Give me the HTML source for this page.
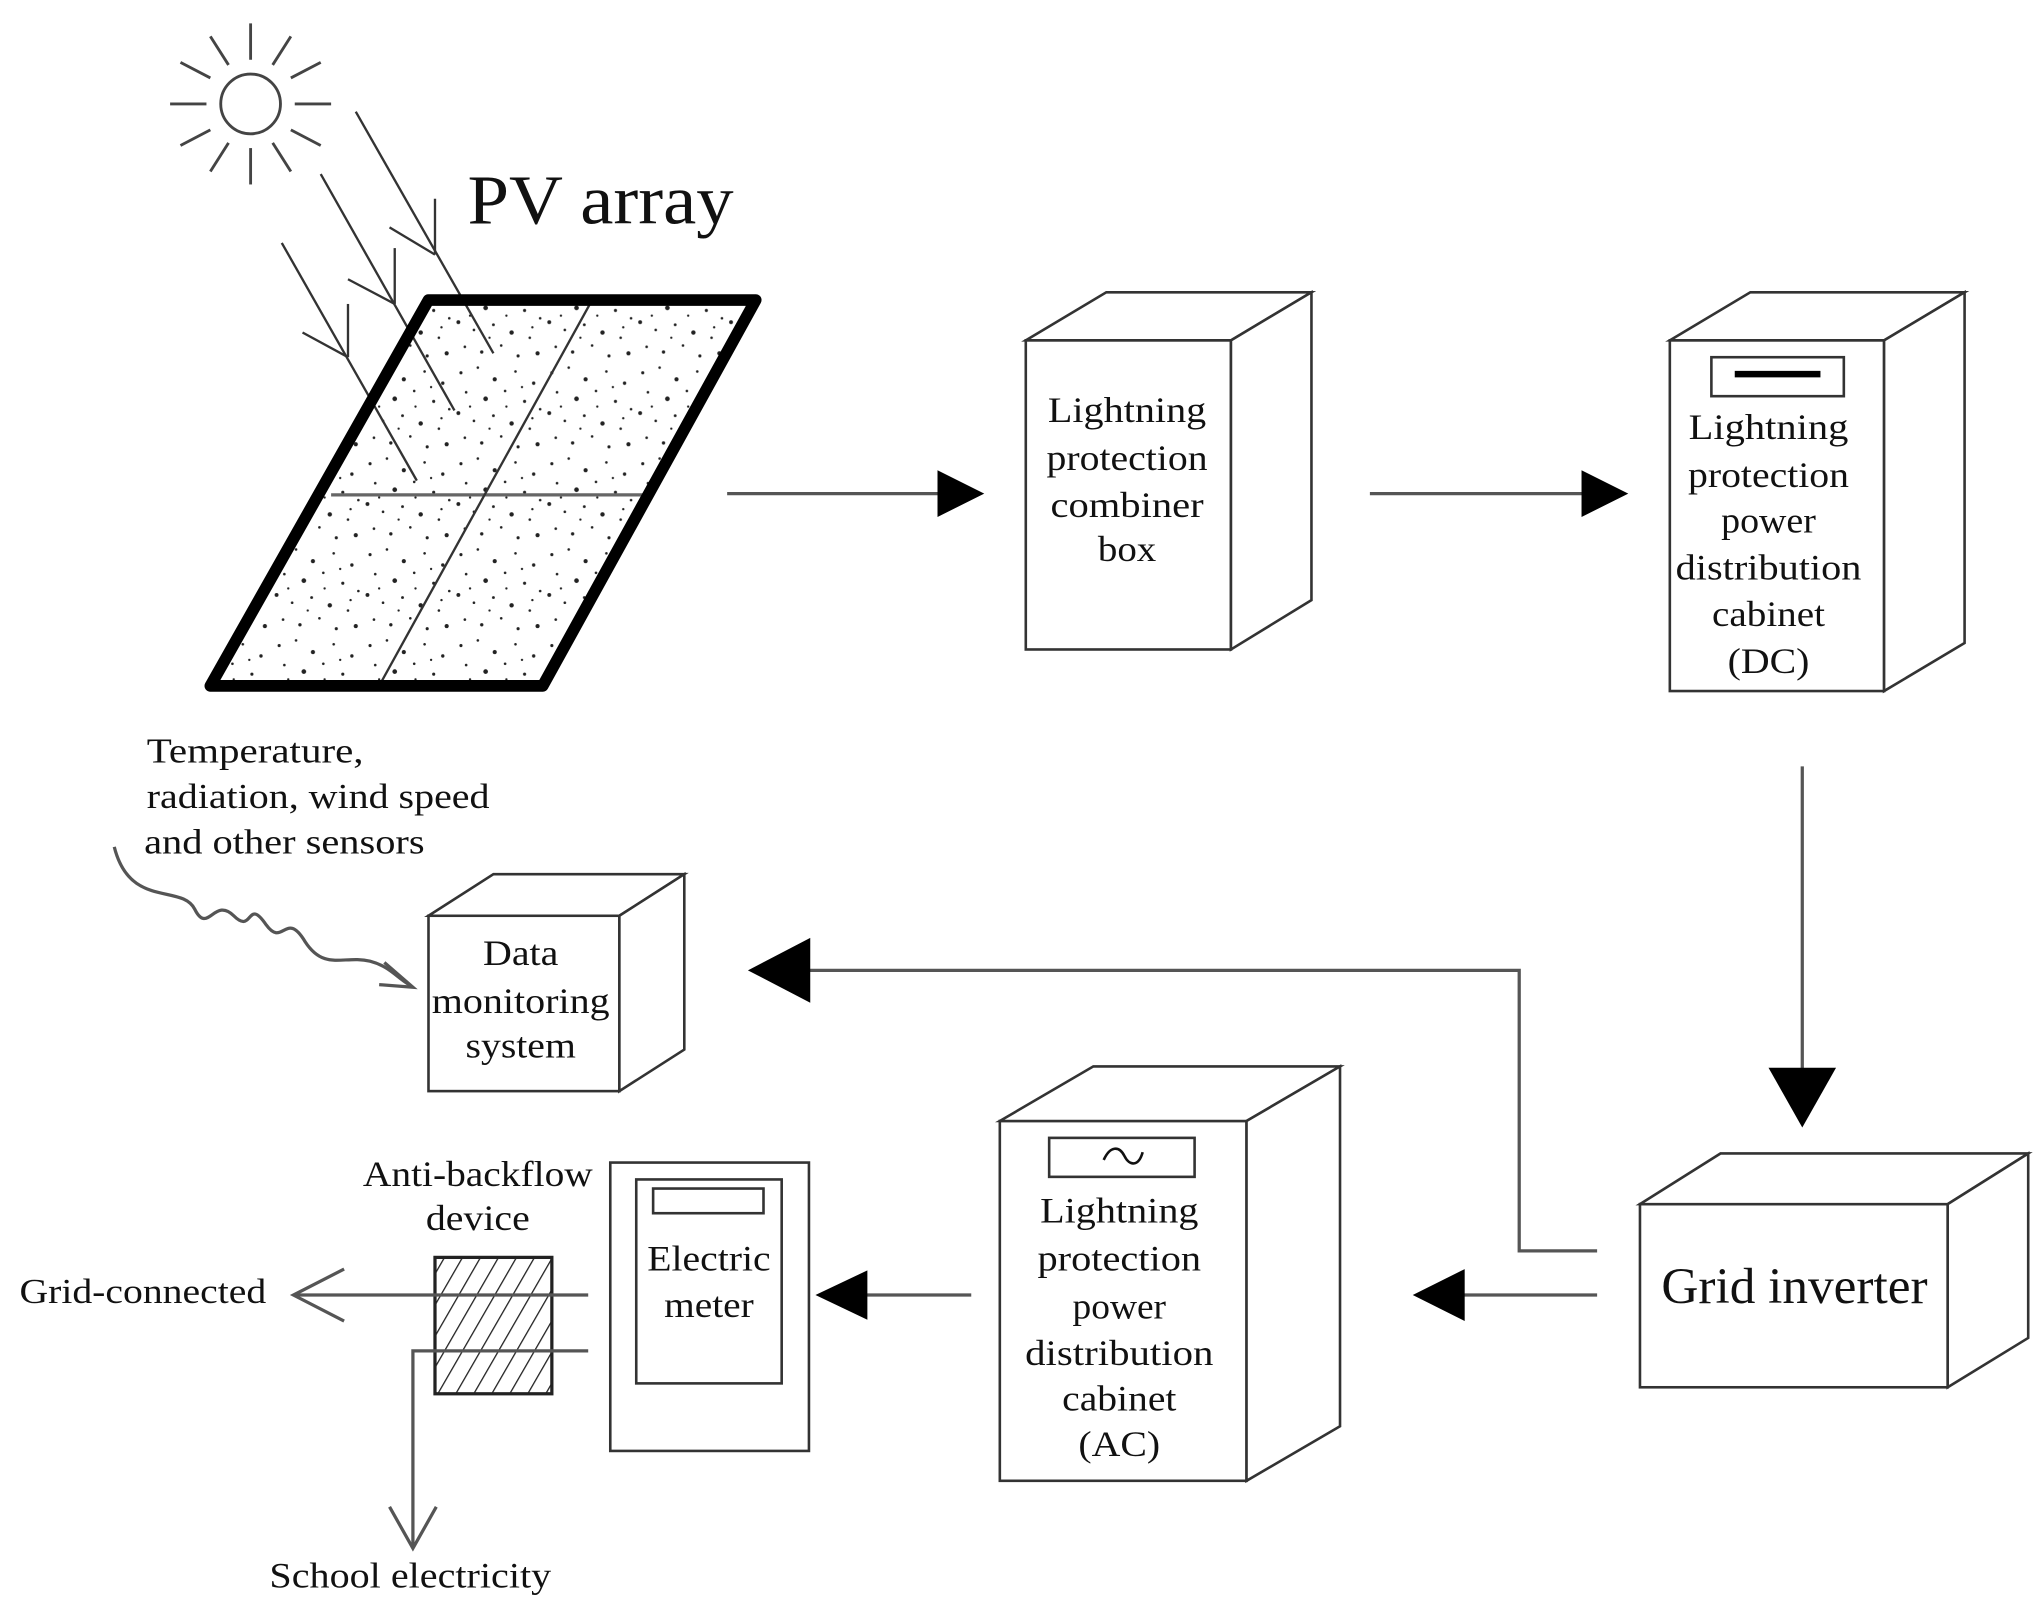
<!DOCTYPE html>
<html><head><meta charset="utf-8"><style>
html,body{margin:0;padding:0;background:#fff;}
svg{display:block;}
text{font-family:"Liberation Serif",serif;fill:#111;}
</style></head><body>
<svg width="2036" height="1612" viewBox="0 0 1568 1241" preserveAspectRatio="none" xmlns="http://www.w3.org/2000/svg">
<defs>
<pattern id="dots" width="70" height="70" patternUnits="userSpaceOnUse">
<g fill="#222">
<circle cx="5" cy="7" r="1.2"/><circle cx="18" cy="3" r="1"/><circle cx="31" cy="12" r="1.6"/><circle cx="47" cy="6" r="1"/><circle cx="61" cy="15" r="1.3"/>
<circle cx="9" cy="22" r="1"/><circle cx="24" cy="27" r="1.8"/><circle cx="39" cy="21" r="1"/><circle cx="54" cy="29" r="1.2"/><circle cx="66" cy="35" r="1"/>
<circle cx="3" cy="38" r="1.5"/><circle cx="15" cy="44" r="1"/><circle cx="30" cy="40" r="1.1"/><circle cx="44" cy="46" r="1.7"/><circle cx="58" cy="50" r="1"/>
<circle cx="8" cy="57" r="1"/><circle cx="21" cy="61" r="1.3"/><circle cx="36" cy="56" r="1"/><circle cx="49" cy="64" r="1.2"/><circle cx="64" cy="62" r="1.6"/>
<circle cx="12" cy="33" r="0.9"/><circle cx="40" cy="33" r="0.9"/><circle cx="52" cy="18" r="0.9"/><circle cx="27" cy="50" r="0.9"/><circle cx="60" cy="42" r="0.9"/>
</g></pattern>
<pattern id="hatch" width="12" height="12" patternUnits="userSpaceOnUse" patternTransform="rotate(30)">
<line x1="0" y1="0" x2="0" y2="12" stroke="#222" stroke-width="2"/>
</pattern>
</defs>

<g stroke="#444" stroke-width="2.2" fill="none">
<circle cx="193" cy="80" r="23"/>
<line x1="193" y1="18" x2="193" y2="46"/><line x1="193" y1="114" x2="193" y2="142"/>
<line x1="131" y1="80" x2="159" y2="80"/><line x1="227" y1="80" x2="255" y2="80"/>
<line x1="162" y1="28" x2="176" y2="50"/><line x1="224" y1="28" x2="210" y2="50"/>
<line x1="162" y1="132" x2="176" y2="110"/><line x1="224" y1="132" x2="210" y2="110"/>
<line x1="139" y1="48" x2="162" y2="60"/><line x1="247" y1="48" x2="224" y2="60"/>
<line x1="139" y1="112" x2="162" y2="100"/><line x1="247" y1="112" x2="224" y2="100"/>
</g>

<text x="360" y="172" font-size="54" textLength="205" lengthAdjust="spacingAndGlyphs">PV array</text>

<polygon points="330,231 582,231 418,528 162,528" fill="url(#dots)" stroke="none"/>
<g stroke="#333" stroke-width="1.8">
<line x1="255" y1="381" x2="495" y2="381" stroke="#666" stroke-width="2.5"/>
<line x1="456" y1="231" x2="292" y2="528"/>
<line x1="274" y1="86" x2="380" y2="272"/>
<line x1="335" y1="196" x2="335" y2="153"/><line x1="335" y1="196" x2="300" y2="175"/>
<line x1="247" y1="134" x2="350" y2="316"/>
<line x1="304" y1="234" x2="304" y2="191"/><line x1="304" y1="234" x2="268" y2="215"/>
<line x1="217" y1="187" x2="321" y2="370"/>
<line x1="268" y1="275" x2="268" y2="234"/><line x1="268" y1="275" x2="233" y2="256"/>
</g>
<polygon points="330,231 582,231 418,528 162,528" fill="none" stroke="#000" stroke-width="9" stroke-linejoin="round"/>

<g stroke="#333" stroke-width="2" fill="#fff">
<rect x="790" y="262" width="158" height="238"/>
<polygon points="790,262 852,225 1010,225 948,262"/>
<polygon points="948,262 1010,225 1010,462 948,500"/>
<rect x="1286" y="262" width="165" height="270"/>
<polygon points="1286,262 1348,225 1513,225 1451,262"/>
<polygon points="1451,262 1513,225 1513,495 1451,532"/>
<rect x="1318" y="275" width="102" height="30"/>
<rect x="1263" y="927" width="237" height="141"/>
<polygon points="1263,927 1325,888 1562,888 1500,927"/>
<polygon points="1500,927 1562,888 1562,1030 1500,1068"/>
<rect x="330" y="705" width="147" height="135"/>
<polygon points="330,705 380,673 527,673 477,705"/>
<polygon points="477,705 527,673 527,808 477,840"/>
<rect x="770" y="863" width="190" height="277"/>
<polygon points="770,863 842,821 1032,821 960,863"/>
<polygon points="960,863 1032,821 1032,1098 960,1140"/>
<rect x="808" y="876" width="112" height="30"/>
<rect x="470" y="895" width="153" height="222"/>
<rect x="490" y="908" width="112" height="157"/>
<rect x="503" y="915" width="85" height="19"/>
</g>
<line x1="1336" y1="288" x2="1402" y2="288" stroke="#000" stroke-width="5"/>
<path d="M850,893 C855,882 862,882 866,890 C870,898 877,898 880,887" fill="none" stroke="#111" stroke-width="2"/>

<rect x="335" y="968" width="90" height="105" fill="url(#hatch)" stroke="#222" stroke-width="2.5"/>

<g stroke="#555" stroke-width="2.5" fill="none">
<line x1="560" y1="380" x2="725" y2="380"/>
<line x1="1055" y1="380" x2="1220" y2="380"/>
<line x1="1388" y1="590" x2="1388" y2="825"/>
<line x1="1230" y1="997" x2="1125" y2="997"/>
<polyline points="1230,963 1170,963 1170,747 620,747"/>
<line x1="748" y1="997" x2="665" y2="997"/>
<line x1="453" y1="997" x2="227" y2="997"/>
<polyline points="265,977 226,997 265,1017"/>
<polyline points="453,1040 318,1040 318,1190"/>
<polyline points="300,1160 318,1192 336,1160"/>
<path d="M88,652 C100,700 140,680 150,700 C160,720 165,690 180,705 C195,720 190,690 205,712 C218,730 220,700 235,725 C250,748 265,735 285,740 C300,744 305,752 315,758"/>
<polyline points="296,741 318,760 292,758"/>
</g>
<g fill="#000">
<polygon points="722,362 758,380 722,398"/>
<polygon points="1218,362 1254,380 1218,398"/>
<polygon points="1362,822 1414,822 1388,868"/>
<polygon points="1128,977 1088,997 1128,1017"/>
<polygon points="624,722 576,747 624,772"/>
<polygon points="668,978 628,997 668,1016"/>
</g>

<g font-size="28" text-anchor="middle" lengthAdjust="spacingAndGlyphs">
<text x="868" y="325" textLength="122" lengthAdjust="spacingAndGlyphs">Lightning</text>
<text x="868" y="362" textLength="124" lengthAdjust="spacingAndGlyphs">protection</text>
<text x="868" y="398" textLength="118" lengthAdjust="spacingAndGlyphs">combiner</text>
<text x="868" y="432" textLength="45" lengthAdjust="spacingAndGlyphs">box</text>
<text x="1362" y="338" textLength="123" lengthAdjust="spacingAndGlyphs">Lightning</text>
<text x="1362" y="375" textLength="124" lengthAdjust="spacingAndGlyphs">protection</text>
<text x="1362" y="410" textLength="73" lengthAdjust="spacingAndGlyphs">power</text>
<text x="1362" y="446" textLength="143" lengthAdjust="spacingAndGlyphs">distribution</text>
<text x="1362" y="482" textLength="87" lengthAdjust="spacingAndGlyphs">cabinet</text>
<text x="1362" y="518" textLength="63" lengthAdjust="spacingAndGlyphs">(DC)</text>
<text x="1382" y="1003" font-size="39" textLength="205" lengthAdjust="spacingAndGlyphs">Grid inverter</text>
<text x="401" y="743" textLength="58" lengthAdjust="spacingAndGlyphs">Data</text>
<text x="401" y="780" textLength="137" lengthAdjust="spacingAndGlyphs">monitoring</text>
<text x="401" y="814" textLength="85" lengthAdjust="spacingAndGlyphs">system</text>
<text x="862" y="941" textLength="122" lengthAdjust="spacingAndGlyphs">Lightning</text>
<text x="862" y="978" textLength="126" lengthAdjust="spacingAndGlyphs">protection</text>
<text x="862" y="1015" textLength="72" lengthAdjust="spacingAndGlyphs">power</text>
<text x="862" y="1051" textLength="145" lengthAdjust="spacingAndGlyphs">distribution</text>
<text x="862" y="1086" textLength="88" lengthAdjust="spacingAndGlyphs">cabinet</text>
<text x="862" y="1121" textLength="63" lengthAdjust="spacingAndGlyphs">(AC)</text>
<text x="546" y="978" textLength="95" lengthAdjust="spacingAndGlyphs">Electric</text>
<text x="546" y="1014" textLength="69" lengthAdjust="spacingAndGlyphs">meter</text>
<text x="368" y="913" textLength="177" lengthAdjust="spacingAndGlyphs">Anti-backflow</text>
<text x="368" y="947" textLength="80" lengthAdjust="spacingAndGlyphs">device</text>
<text x="316" y="1222" textLength="217" lengthAdjust="spacingAndGlyphs">School electricity</text>
</g>
<g font-size="27">
<text x="113" y="587" textLength="167" lengthAdjust="spacingAndGlyphs">Temperature,</text>
<text x="113" y="622" textLength="264" lengthAdjust="spacingAndGlyphs">radiation, wind speed</text>
<text x="111" y="657" textLength="216" lengthAdjust="spacingAndGlyphs">and other sensors</text>
<text x="15" y="1003" textLength="190" lengthAdjust="spacingAndGlyphs">Grid-connected</text>
</g>
</svg>
</body></html>
